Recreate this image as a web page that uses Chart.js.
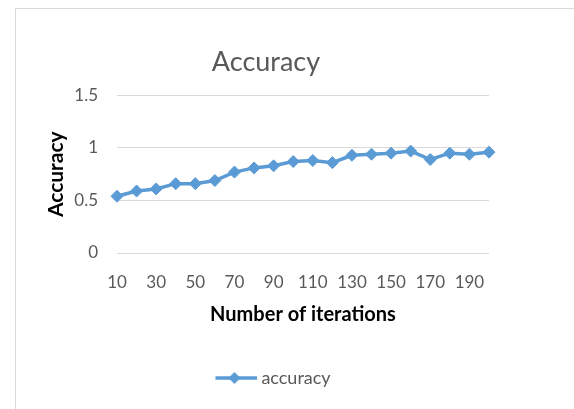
<!DOCTYPE html>
<html>
<head>
<meta charset="utf-8">
<title>Accuracy</title>
<script src="https://cdn.jsdelivr.net/npm/chart.js@4.4.1/dist/chart.umd.min.js"></script>
<style>
  html, body { margin: 0; padding: 0; background: #fff; overflow: hidden; }
  #frame { position: absolute; left: 15px; top: 8px; width: 620px; height: 460px; border: 1px solid #d9d9d9; }
  #wrap { position: absolute; left: 0; top: 0; width: 574px; height: 409px; }
</style>
</head>
<body>
<div id="frame"></div>
<div id="wrap"><canvas id="chart"></canvas></div>
<script>
  // Accuracy per number of training iterations
  const iterations = [10, 20, 30, 40, 50, 60, 70, 80, 90, 100,
                      110, 120, 130, 140, 150, 160, 170, 180, 190, 200];
  const accuracy   = [0.54, 0.59, 0.61, 0.66, 0.66, 0.69, 0.77, 0.81, 0.83, 0.87,
                      0.88, 0.86, 0.93, 0.94, 0.95, 0.97, 0.89, 0.95, 0.94, 0.96];
  const yMin = 0, yMax = 1.5, yStep = 0.5;

  const BLUE = '#5B9BD5';
  const TEXT = '#595959';
  const GRID = '#d9d9d9';
  const FONT = 'Lato, "Open Sans", sans-serif';

  // legend marker: line with a diamond, shifted right inside its box
  function legendMarker() {
    const c = document.createElement('canvas');
    c.width = 61; c.height = 14;
    const g = c.getContext('2d');
    g.strokeStyle = BLUE;
    g.lineWidth = 3.5;
    g.beginPath();
    g.moveTo(19, 7); g.lineTo(61, 7);
    g.stroke();
    g.fillStyle = BLUE;
    g.beginPath();
    g.moveTo(38, 1); g.lineTo(44, 7); g.lineTo(38, 13); g.lineTo(32, 7);
    g.closePath();
    g.fill();
    return c;
  }

  new Chart(document.getElementById('chart'), {
    type: 'line',
    data: {
      labels: iterations,
      datasets: [{
        label: 'accuracy',
        data: accuracy,
        borderColor: BLUE,
        backgroundColor: BLUE,
        borderWidth: 3.5,
        pointStyle: 'rectRot',
        pointRadius: 6,
        pointBorderWidth: 1,
        tension: 0,
      }],
    },
    options: {
      responsive: true,
      maintainAspectRatio: false,
      animation: false,
      layout: { padding: { left: 15, right: 57, top: 8, bottom: 12 } },
      plugins: {
        title: {
          display: true,
          text: 'Accuracy',
          color: TEXT,
          font: { family: FONT, size: 27, weight: 'normal' },
          padding: { top: 38, bottom: 17 },
        },
        legend: {
          position: 'bottom',
          labels: {
            usePointStyle: true,
            pointStyle: legendMarker(),
            pointStyleWidth: 51,
            padding: 42,
            color: TEXT,
            font: { family: FONT, size: 18 },
          },
        },
        tooltip: { enabled: false },
      },
      scales: {
        x: {
          offset: false,
          grid: { display: false },
          border: { display: false },
          ticks: {
            autoSkip: false,
            maxRotation: 0,
            padding: 11,
            color: TEXT,
            font: { family: FONT, size: 17 },
            callback(value, index) {
              return index % 2 === 0 ? this.getLabelForValue(value) : '';
            },
          },
          title: {
            display: true,
            text: 'Number of iterations',
            color: '#000',
            font: { family: FONT, size: 20, weight: 'bold' },
            padding: { top: 0, bottom: 0 },
          },
          afterFit(scale) { scale.height = 74; },
        },
        y: {
          min: yMin,
          max: yMax,
          grid: { color: GRID, drawTicks: false },
          border: { display: false },
          ticks: {
            stepSize: yStep,
            padding: 19,
            color: TEXT,
            font: { family: FONT, size: 17 },
            callback: (v) => String(v),
          },
          title: {
            display: true,
            text: 'Accuracy',
            color: '#000',
            font: { family: FONT, size: 21, weight: 'bold' },
            padding: { top: 29, bottom: 0 },
          },
          afterFit(scale) { scale.width = 102; },
        },
        y2: {
          position: 'right',
          grid: { display: false },
          border: { display: false },
          ticks: { display: false },
          afterFit(scale) { scale.width = 28; },
        },
      },
    },
  });
</script>
</body>
</html>
